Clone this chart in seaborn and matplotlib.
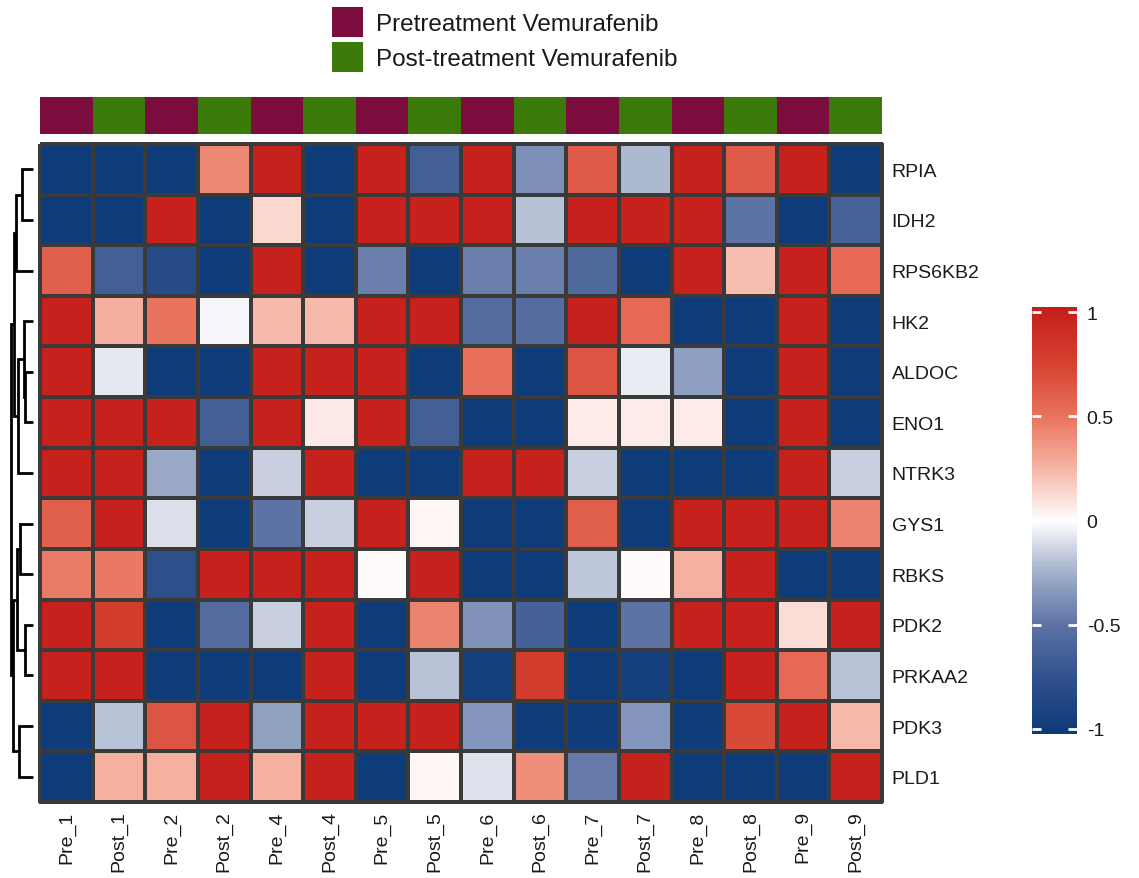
import numpy as np
import pandas as pd
import matplotlib
matplotlib.use("Agg")
import matplotlib.pyplot as plt
from matplotlib.colors import LinearSegmentedColormap, ListedColormap
from matplotlib.patches import Patch
from matplotlib.transforms import blended_transform_factory
import seaborn as sns

sns.set_theme(style="white")
plt.rcParams["font.family"] = ["Liberation Sans", "DejaVu Sans"]
plt.rcParams["axes.unicode_minus"] = False

# ---- data -------------------------------------------------------------
samples = ["Pre_1", "Post_1", "Pre_2", "Post_2", "Pre_4", "Post_4", "Pre_5", "Post_5",
           "Pre_6", "Post_6", "Pre_7", "Post_7", "Pre_8", "Post_8", "Pre_9", "Post_9"]
groups = ["Pre", "Post"] * 8

genes = ["RPIA", "IDH2", "RPS6KB2", "HK2", "ALDOC", "ENO1", "NTRK3",
         "GYS1", "RBKS", "PDK2", "PRKAA2", "PDK3", "PLD1"]

rpia    = [-1, -1, -1, 0.42, 1, -1, 1, -0.65, 1, -0.38, 0.62, -0.22, 1, 0.62, 1, -1]
idh2    = [-1, -1, 1, -1, 0.13, -1, 1, 1, 1, -0.2, 1, 1, 1, -0.5, -1, -0.62]
rps6kb2 = [0.6, -0.65, -0.82, -1, 1, -1, -0.45, -1, -0.45, -0.45, -0.57, -1, 1, 0.22, 1, 0.55]
hk2     = [1, 0.28, 0.5, -0.03, 0.24, 0.24, 1, 1, -0.55, -0.55, 1, 0.55, -1, -1, 1, -1]
aldoc   = [1, -0.07, -1, -1, 1, 1, 1, -1, 0.52, -1, 0.65, -0.06, -0.32, -1, 1, -1]
eno1    = [1, 1, 1, -0.65, 1, 0.08, 1, -0.65, -1, -1, 0.07, 0.07, 0.07, -1, 1, -1]
ntrk3   = [1, 1, -0.28, -1, -0.15, 1, -1, -1, 1, 1, -0.15, -1, -1, -1, 1, -0.15]
gys1    = [0.6, 1, -0.1, -1, -0.5, -0.15, 1, 0.03, -1, -1, 0.6, -1, 1, 1, 1, 0.44]
rbks    = [0.47, 0.48, -0.78, 1, 1, 1, 0.01, 1, -1, -1, -0.17, 0.01, 0.27, 1, -1, -1]
pdk2    = [1, 0.8, -1, -0.55, -0.15, 1, -1, 0.44, -0.37, -0.64, -1, -0.5, 1, 1, 0.12, 1]
prkaa2  = [1, 1, -1, -1, -1, 1, -1, -0.19, -0.95, 0.8, -1, -0.95, -1, 1, 0.55, -0.19]
pdk3    = [-1, -0.19, 0.65, 1, -0.31, 1, 1, 1, -0.36, -1, -1, -0.36, -1, 0.72, 1, 0.24]
pld1    = [-1, 0.27, 0.27, 1, 0.27, 1, -1, 0.03, -0.09, 0.4, -0.47, 1, -1, -1, -1, 1]

# row clustering: (left node, right node, height); leaves are 0..12, merged nodes 13+
row_merges = [
    (0, 1, 35), (13, 2, 53), (4, 5, 25), (3, 15, 30), (16, 6, 47), (14, 17, 60),
    (7, 8, 40), (9, 10, 25), (19, 20, 52), (11, 12, 43), (21, 22, 63), (18, 23, 70),
]

cbar_ticks = [-1, -0.5, 0, 0.5, 1]
cbar_labels = ["-1", "-0.5", "0", "0.5", "1"]

# ---- styling ----------------------------------------------------------
pre_color, post_color = "#7A0D3D", "#3B7A08"
text_color = "#1a1a1a"
cmap = LinearSegmentedColormap.from_list(
    "navy_white_red",
    [(0.0, "#0b3a78"), (0.125, "#2f508b"), (0.25, "#5a71a3"), (0.375, "#a0aeca"),
     (0.5, "#ffffff"), (0.625, "#f6b3a4"), (0.75, "#e8705a"), (0.875, "#d4402f"),
     (1.0, "#c41e1a")])

values = np.array([rpia, idh2, rps6kb2, hk2, aldoc, eno1, ntrk3,
                   gys1, rbks, pdk2, prkaa2, pdk3, pld1])
df = pd.DataFrame(values, index=genes, columns=samples)

W, H = 1139, 879
fig = plt.figure(figsize=(W / 100, H / 100), dpi=100)


def box(x0, y0, x1, y1):
    return [x0 / W, 1 - y1 / H, (x1 - x0) / W, (y1 - y0) / H]


ax_hm = fig.add_axes(box(40, 145, 882, 803))
ax_col = fig.add_axes(box(40, 98, 882, 135))
ax_den = fig.add_axes(box(11, 145, 33, 803))
ax_cb = fig.add_axes(box(1032, 308, 1077, 735))

# main heatmap
sns.heatmap(df, ax=ax_hm, cmap=cmap, vmin=-1.025, vmax=1.025,
            linewidths=1.6, linecolor="#3a3a3a", cbar=True, cbar_ax=ax_cb)
ax_hm.collections[0].set_clip_on(False)
ax_hm.yaxis.tick_right()
ax_hm.set_yticks(np.arange(len(genes)) + 0.5)
ax_hm.set_yticklabels(genes, rotation=0, fontsize=14, color=text_color)
ax_hm.set_xticks(np.arange(len(samples)) + 0.5)
ax_hm.set_xticklabels(samples, rotation=90, fontsize=14, color=text_color)
ax_hm.tick_params(axis="y", length=0, pad=7)
ax_hm.tick_params(axis="x", length=0, pad=6)
ax_hm.set_xlabel("")
ax_hm.set_ylabel("")

# column annotation bar
group_codes = pd.DataFrame([[0 if g == "Pre" else 1 for g in groups]], columns=samples)
sns.heatmap(group_codes, ax=ax_col, cmap=ListedColormap([pre_color, post_color]),
            vmin=0, vmax=1, cbar=False, linewidths=0)
ax_col.set_xticks([])
ax_col.set_yticks([])
ax_col.set_xlabel("")
ax_col.set_ylabel("")

# colorbar: labels on the right, white dashes inside the bar at each tick
cbar = ax_hm.collections[0].colorbar
cbar.outline.set_visible(False)
cbar.set_ticks(cbar_ticks)
cbar.set_ticklabels(cbar_labels)
ax_cb.tick_params(axis="y", length=0, left=False, right=False,
                  labelleft=False, labelright=True,
                  labelsize=14, labelcolor=text_color, pad=7)
dash_tr = blended_transform_factory(ax_cb.transAxes, ax_cb.transData)
for v in cbar_ticks:
    for x0, x1 in [(0.0, 0.2), (0.8, 1.0)]:
        ax_cb.plot([x0, x1], [v, v], color="white", lw=2.0, transform=dash_tr,
                   solid_capstyle="butt", zorder=5, clip_on=False)

# row dendrogram
pos = {i: (i + 0.5, 0.0) for i in range(len(genes))}
for k, (a, b, h) in enumerate(row_merges):
    ya, ha = pos[a]
    yb, hb = pos[b]
    ax_den.plot([ha, h, h, hb], [ya, ya, yb, yb], color="black", lw=2.0,
                solid_joinstyle="miter", solid_capstyle="butt", clip_on=False)
    pos[len(genes) + k] = ((ya + yb) / 2, h)
top_h = max(m[2] for m in row_merges)
ax_den.set_xlim(top_h, 0)
ax_den.set_ylim(len(genes), 0)
ax_den.axis("off")

# group legend
handles = [Patch(facecolor=pre_color, edgecolor="none", label="Pretreatment Vemurafenib"),
           Patch(facecolor=post_color, edgecolor="none", label="Post-treatment Vemurafenib")]
leg = fig.legend(handles=handles, loc="upper left", bbox_to_anchor=(332 / W, 1 - 8 / H),
                 frameon=False, fontsize=17.5, handlelength=1.28, handleheight=1.5,
                 handletextpad=0.55, labelspacing=0.22, borderpad=0, borderaxespad=0)
for t in leg.get_texts():
    t.set_color(text_color)

fig.savefig("out.png", dpi=100, facecolor="white")
